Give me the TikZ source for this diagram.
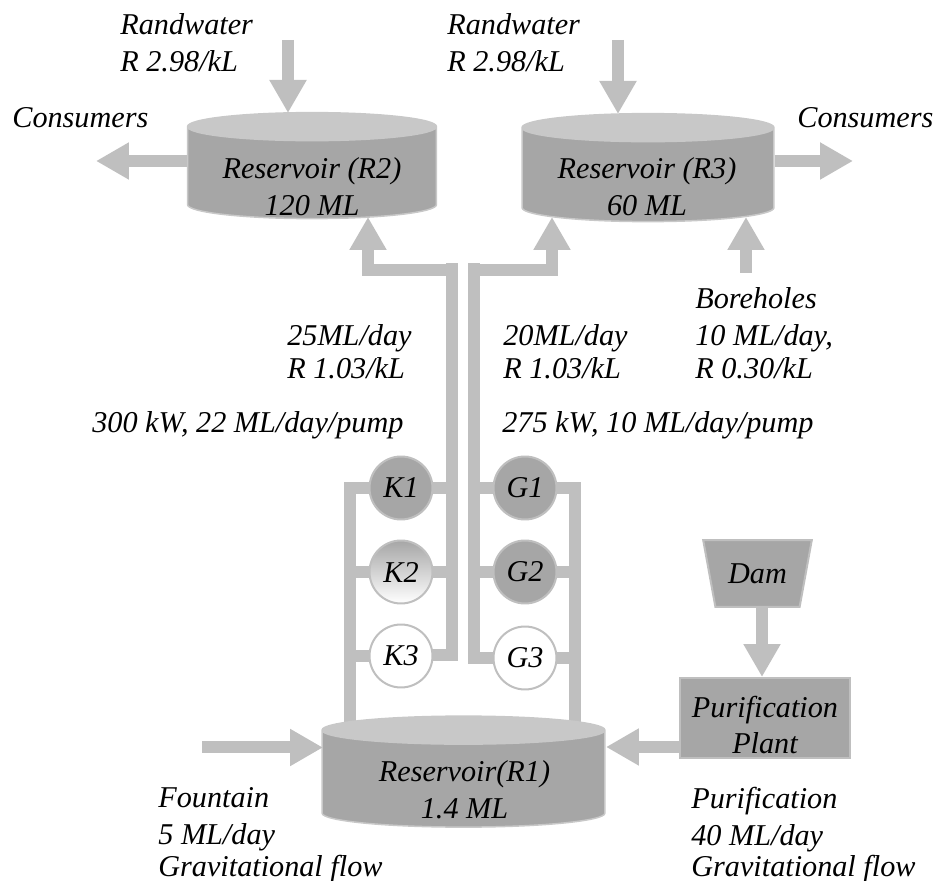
\documentclass[tikz,border=0pt]{standalone}
\usepackage{fontspec}
\setmainfont{Liberation Serif}
\usetikzlibrary{arrows.meta,shapes.geometric,backgrounds}
\definecolor{pipegray}{HTML}{BFBFBF}
\definecolor{bodygray}{HTML}{A6A6A6}
\definecolor{topgray}{HTML}{C8C8C8}
\begin{document}
\begin{tikzpicture}[
    x=0.02cm, y=-0.02cm,
    every node/.style={font=\fontsize{17.2}{21}\selectfont\itshape},
    tank/.style={cylinder, shape border rotate=90, draw=topgray, line width=0.03cm, aspect=1, text width=0.56cm, cylinder uses custom fill, cylinder body fill=bodygray, cylinder end fill=topgray, inner sep=0pt},
    tanktext/.style={align=center, inner sep=0pt},
    pump/.style={circle, draw=pipegray, line width=0.04cm, minimum size=1.26cm, inner sep=0pt},
    note/.style={anchor=west, align=left, inner sep=0pt},
    pipe/.style={draw=pipegray, line width=0.24cm},
    flow/.style={pipe, -{Triangle[length=0.66cm,width=0.7cm]}}
]
    \useasboundingbox (0,0) rectangle (934,881);

    \node[tank, minimum width=4.98cm, minimum height=2.12cm] (R2) at (312,173) {};
    \node[tank, minimum width=5.04cm, minimum height=2.16cm] (R3) at (648,175) {};
    \node[tank, minimum width=5.66cm, minimum height=2.22cm] (R1) at (463.5,779) {};
    \node[tanktext] (R2text) at (312,187) {Reservoir (R2)\\120 ML};
    \node[tanktext] (R3text) at (647,187) {Reservoir (R3)\\60 ML};
    \node[tanktext] (R1text) at (464.5,790) {Reservoir(R1)\\1.4 ML};

    \node[pump, fill=bodygray] (K1) at (401,488) {K1};
    \node[pump, top color=bodygray, bottom color=white, draw=pipegray] (K2) at (401,572) {K2};
    \node[pump, fill=white] (K3) at (401,656) {K3};
    \node[pump, fill=bodygray] (G1) at (525,488) {G1};
    \node[pump, fill=bodygray] (G2) at (525,572) {G2};
    \node[pump, fill=white] (G3) at (525,658) {G3};

    \node[trapezium, shape border rotate=180, trapezium stretches=true, draw=pipegray, line width=0.04cm, fill=bodygray, minimum width=2.18cm, minimum height=1.34cm, trapezium angle=67, inner sep=0pt] (dam) at (757.5,573.5) {Dam};
    \node[rectangle, draw=pipegray, line width=0.04cm, fill=bodygray, minimum width=3.4cm, minimum height=1.6cm, inner sep=0pt] (plant) at (765,718) {};
    \node[tanktext] (planttext) at (765,725) {Purification\\Plant};

    \node[note] (randL) at (120,43) {Randwater\\R 2.98/kL};
    \node[note] (randR) at (447,43) {Randwater\\R 2.98/kL};
    \node[note] (consL) at (12,118) {Consumers};
    \node[note] (consR) at (797,118) {Consumers};
    \node[note] (bore) at (695,333.25) {Boreholes\\10 ML/day,\\[-2pt]R 0.30/kL};
    \node[note] (flowK) at (287,352) {25ML/day\\[-2pt]R 1.03/kL};
    \node[note] (flowG) at (503,352) {20ML/day\\[-2pt]R 1.03/kL};
    \node[note] (ratedK) at (92,425) {300 kW, 22 ML/day/pump};
    \node[note] (ratedG) at (502,425) {275 kW, 10 ML/day/pump};
    \node[note] (fount) at (158,835) {Fountain\\5 ML/day\\[-3pt]Gravitational flow};
    \node[note] (purif) at (691,835) {Purification\\40 ML/day\\[-3pt]Gravitational flow};

    \coordinate (kfoot) at (349.5,730);
    \coordinate (gfoot) at (575,730);
    \coordinate (ktop) at (452,263);
    \coordinate (gtop) at (474,263);
    \coordinate (kjoin) at (447,270);
    \coordinate (gjoin) at (479,270);
    \coordinate (r2in) at (368,217);
    \coordinate (r3in) at (552,217);

    \begin{scope}[on background layer]
        \draw[pipe] (K1) -| (kfoot);
        \draw[pipe] (K2) -- (K2 -| kfoot);
        \draw[pipe] (K3) -- (K3 -| kfoot);
        \draw[pipe] (K1) -- (K1 -| ktop);
        \draw[pipe] (K2) -- (K2 -| ktop);
        \draw[pipe] ([yshift=0.02cm]K3.center) -| (ktop);
        \draw[pipe] (G1) -| (gfoot);
        \draw[pipe] (G2) -- (G2 -| gfoot);
        \draw[pipe] (G3) -- (G3 -| gfoot);
        \draw[pipe] (G1) -- (G1 -| gtop);
        \draw[pipe] (G2) -- (G2 -| gtop);
        \draw[pipe] (G3) -| (gtop);
    \end{scope}

    \coordinate (randLs) at (288,40);
    \coordinate (randLt) at (288,113);
    \coordinate (randRs) at (618,40);
    \coordinate (randRt) at (618,114);
    \coordinate (consLt) at (96,161);
    \coordinate (consRt) at (853,161);
    \coordinate (bores) at (746,273);
    \coordinate (boret) at (746,217);
    \coordinate (founts) at (202,747.5);
    \coordinate (fountt) at (323,747.5);
    \coordinate (plantw) at (681,747);
    \coordinate (plantt) at (606,747);

    \draw[flow] (randLs) -- (randLt);
    \draw[flow] (randRs) -- (randRt);
    \draw[flow] (R2.west |- consLt) -- (consLt);
    \draw[flow] (R3.east |- consRt) -- (consRt);
    \draw[flow] (bores) -- (boret);
    \draw[flow] (kjoin) -| (r2in);
    \draw[flow] (gjoin) -| (r3in);
    \draw[flow] (founts) -- (fountt);
    \draw[flow] (plantw) -- (plantt);
    \draw[flow] (762,607) -- (762,677);
\end{tikzpicture}
\end{document}
